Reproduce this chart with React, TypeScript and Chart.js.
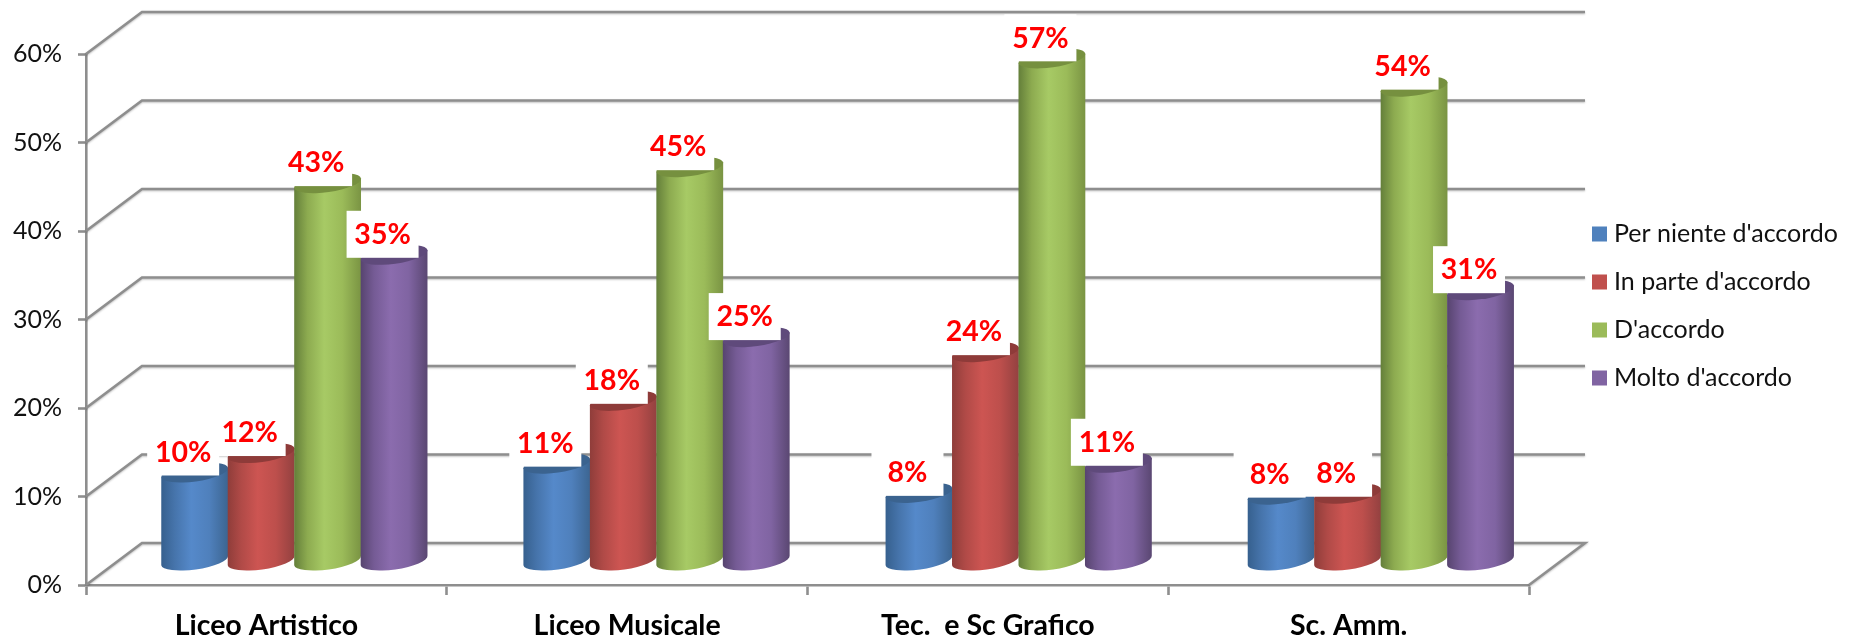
import React, { useEffect, useRef } from "react";
import { Chart, registerables } from "chart.js";

Chart.register(...registerables);

const categories = ["Liceo Artistico", "Liceo Musicale", "Tec.  e Sc Grafico", "Sc. Amm."];
const perNiente = [10.0, 11, 7.7, 7.5];
const inParte = [12.2, 18.1, 23.6, 7.6];
const dAccordo = [42.7, 44.5, 56.8, 53.6];
const molto = [34.6, 25.3, 11.1, 30.6];
const seriesNames = ["Per niente d'accordo", "In parte d'accordo", "D'accordo", "Molto d'accordo"];
const baseColors = ["#4f81bd", "#c0504d", "#9bbb59", "#8064a2"];
const topColors = ["#3b638f", "#8e3b39", "#76903f", "#5f4a7b"];
const gradients = [
  ["#36608e", "#4674ab", "#5589ca", "#4f80bc", "#3c6591"],
  ["#8f3d3a", "#b04a47", "#cd5552", "#bd4f4c", "#934140"],
  ["#647f3a", "#8dab50", "#a7ca65", "#9bbb59", "#7a9443"],
  ["#57446f", "#755b95", "#8b6cae", "#8064a2", "#5a4772"],
];

const FONT = "Lato, Carlito, Calibri, sans-serif";
const GRID = "#8e8e8e";
const DX = 56;
const DY = -42;
const LIFT = 3;
const DRIFT = 1.4;
const TILT = (-8 * Math.PI) / 180;
const MINOR = 9;

const cylinderPlugin = {
  id: "cylinders",
  beforeDatasetsDraw(chart: any) {
    const { ctx, scales, chartArea } = chart;
    const y = scales.y;
    ctx.save();
    ctx.strokeStyle = GRID;
    ctx.lineWidth = 2.6;
    ctx.shadowColor = "rgba(0,0,0,0.25)";
    ctx.shadowBlur = 2;
    ctx.shadowOffsetY = 1;
    for (const t of y.ticks) {
      const py = y.getPixelForValue(t.value);
      ctx.beginPath();
      ctx.moveTo(chartArea.left, py);
      ctx.lineTo(chartArea.left + DX, py + DY);
      ctx.lineTo(chartArea.right + DX, py + DY);
      if (t.value === 0) {
        ctx.lineTo(chartArea.right, py);
      }
      ctx.stroke();
    }
    ctx.restore();
  },
  beforeDatasetDraw() {
    return false;
  },
  afterDatasetsDraw(chart: any) {
    const { ctx } = chart;
    const tops: { x: number; y: number; v: number }[] = [];
    chart.data.datasets.forEach((ds: any, di: number) => {
      const meta = chart.getDatasetMeta(di);
      meta.data.forEach((bar: any, i: number) => {
        const cx = bar.x + DX / 2 + i * DRIFT;
        const topY = bar.y + DY / 2 - LIFT;
        const baseY = bar.base + DY / 2 - LIFT;
        const a = bar.width / 2 + 0.5;
        const ex = a * Math.cos(TILT);
        const ey = a * Math.sin(TILT);
        const g = ctx.createLinearGradient(cx - ex, 0, cx + ex, 0);
        const stops = gradients[di];
        [0, 0.2, 0.45, 0.72, 1].forEach((s, k) => g.addColorStop(s, stops[k]));
        ctx.save();
        ctx.beginPath();
        ctx.moveTo(cx - ex, topY - ey);
        ctx.lineTo(cx - ex, baseY - ey);
        ctx.ellipse(cx, baseY, a, MINOR, TILT, Math.PI, 0, true);
        ctx.lineTo(cx + ex, topY + ey);
        ctx.closePath();
        ctx.fillStyle = g;
        ctx.fill();
        ctx.beginPath();
        ctx.ellipse(cx, topY, a, MINOR, TILT, 0, Math.PI * 2);
        ctx.fillStyle = topColors[di];
        ctx.fill();
        ctx.restore();
        tops.push({ x: cx, y: topY, v: ds.data[i] });
      });
    });
    ctx.save();
    ctx.textAlign = "center";
    ctx.textBaseline = "middle";
    ctx.font = `bold 28.5px ${FONT}`;
    for (const t of tops) {
      const lx = t.x - 11.5;
      const ly = t.y - 20;
      ctx.fillStyle = "#ffffff";
      ctx.fillRect(lx - 36, ly - 24, 72, 47);
      ctx.fillStyle = "#ff0000";
      ctx.fillText(`${Math.round(t.v)}%`, lx, ly);
    }
    ctx.restore();
    ctx.save();
    ctx.textAlign = "left";
    ctx.textBaseline = "middle";
    ctx.font = `25px ${FONT}`;
    chart.data.datasets.forEach((ds: any, di: number) => {
      const yy = 234 + di * 48;
      ctx.fillStyle = baseColors[di];
      ctx.fillRect(1592, yy - 7.5, 15, 15);
      ctx.fillStyle = "#111111";
      ctx.fillText(ds.label, 1614, yy);
    });
    ctx.restore();
  },
};

export default function App() {
  const ref = useRef<HTMLCanvasElement>(null);
  useEffect(() => {
    const values = [perNiente, inParte, dAccordo, molto];
    const chart = new Chart(ref.current as HTMLCanvasElement, {
      type: "bar",
      data: {
        labels: categories,
        datasets: seriesNames.map((label, i) => ({
          label,
          data: values[i],
          backgroundColor: baseColors[i],
          barPercentage: 1,
          categoryPercentage: 0.737,
        })),
      },
      options: {
        animation: false,
        responsive: false,
        layout: { padding: { left: 0, top: 54, right: 329, bottom: 0 } },
        plugins: { legend: { display: false }, tooltip: { enabled: false } },
        scales: {
          x: {
            afterFit: (s: any) => {
              s.height = 59;
            },
            grid: {
              drawOnChartArea: false,
              drawTicks: true,
              tickLength: 10,
              tickColor: GRID,
              tickWidth: 2.6,
            },
            border: { color: GRID, width: 2.6 },
            ticks: {
              color: "#000000",
              autoSkip: false,
              maxRotation: 0,
              padding: 14,
              font: { family: FONT, size: 28.5, weight: "bold" },
            },
          },
          y: {
            min: 0,
            max: 60,
            afterFit: (s: any) => {
              s.width = 86;
            },
            grid: {
              drawOnChartArea: false,
              drawTicks: true,
              tickLength: 8,
              tickColor: GRID,
              tickWidth: 2.6,
            },
            border: { color: GRID, width: 2.6 },
            ticks: {
              stepSize: 10,
              color: "#111111",
              padding: 16,
              font: { family: FONT, size: 25 },
              callback: (v: any) => `${v}%`,
            },
          },
        },
      },
      plugins: [cylinderPlugin],
    } as any);
    return () => chart.destroy();
  }, []);
  return (
    <div style={{ position: "fixed", left: 0, top: 0, width: 1858, height: 644, background: "#fff" }}>
      <canvas ref={ref} width={1858} height={644} style={{ display: "block" }} />
    </div>
  );
}
